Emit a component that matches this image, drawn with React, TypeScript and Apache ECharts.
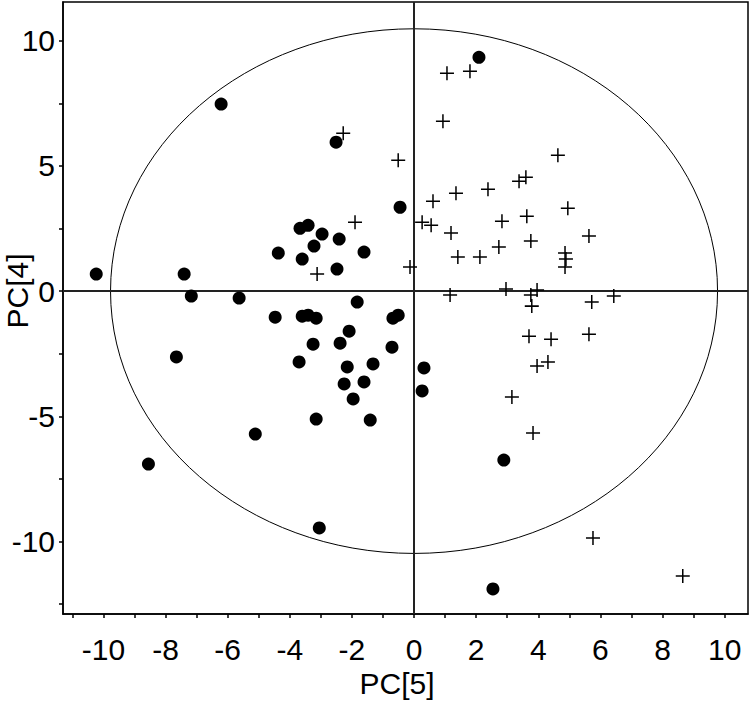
import React, { useEffect, useRef } from "react";
import * as echarts from "echarts";

// Filled circles: [PC5, PC4]
const dotsPC5 = [-10.23, -7.4, -7.17, -5.63, -7.65, -6.21, -8.55, -3.05, 2.89, 2.54, 2.09, -2.51, -0.45, -3.67, -3.41, -2.96, -2.41, -4.37, -3.22, -3.6, -1.61, -2.48, -4.47, -3.6, -3.41, -3.15, -1.83, -0.68, -0.51, -2.09, -3.25, -2.38, -0.71, -3.7, -2.15, -1.32, 0.32, -2.25, -1.61, 0.26, -1.96, -3.15, -1.41, -5.11];
const dotsPC4 = [0.68, 0.68, -0.2, -0.28, -2.63, 7.47, -6.91, -9.46, -6.75, -11.9, 9.34, 5.95, 3.35, 2.51, 2.63, 2.28, 2.08, 1.52, 1.8, 1.28, 1.56, 0.88, -1.04, -1.0, -0.96, -1.08, -0.44, -1.08, -0.96, -1.6, -2.12, -2.08, -2.24, -2.83, -3.03, -2.91, -3.07, -3.71, -3.63, -3.99, -4.31, -5.11, -5.15, -5.71];

// Plus markers: [PC5, PC4]
const crossPC5 = [1.06, 1.8, 0.93, -0.51, -2.28, 0.61, 1.35, 2.38, 3.38, 3.6, 4.63, 0.26, 0.55, 1.19, 2.83, 3.63, 4.95, -1.9, 2.73, 3.76, 5.63, 4.86, 4.89, 4.86, 1.41, 2.12, -0.13, -3.12, 1.16, 2.96, 3.96, 3.76, 3.79, 5.72, 6.43, 3.7, 4.41, 5.63, 3.96, 4.31, 3.15, 3.83, 5.76, 8.65];
const crossPC4 = [8.7, 8.78, 6.79, 5.23, 6.31, 3.59, 3.91, 4.07, 4.39, 4.55, 5.43, 2.75, 2.63, 2.32, 2.79, 2.99, 3.31, 2.75, 1.76, 2.0, 2.2, 1.52, 1.28, 0.96, 1.36, 1.36, 0.96, 0.68, -0.16, 0.08, 0.04, -0.16, -0.6, -0.44, -0.2, -1.8, -1.92, -1.72, -2.99, -2.83, -4.23, -5.67, -9.86, -11.38];

// Confidence ellipse semi-axes (in data units)
const ellipseRadii = [9.77, 10.48];

const xTicks = [-11, -10, -9, -8, -7, -6, -5, -4, -3, -2, -1, 0, 1, 2, 3, 4, 5, 6, 7, 8, 9, 10];
const xLabels = [-10, -8, -6, -4, -2, 0, 2, 4, 6, 8, 10];
const yTicks = [-12.5, -10, -7.5, -5, -2.5, 0, 2.5, 5, 7.5, 10];
const yLabels = [-10, -5, 0, 5, 10];

const FONT = "'Liberation Sans', Arial, sans-serif";
const PLUS = "path://M5.8,0H7.2V5.8H13V7.2H7.2V13H5.8V7.2H0V5.8H5.8Z";

export default function App() {
  const ref = useRef<HTMLDivElement>(null);
  useEffect(() => {
    if (!ref.current) return;
    const chart = echarts.init(ref.current, null, { renderer: "svg" });
    const dots = dotsPC5.map((x, i) => [x, dotsPC4[i]]);
    const crosses = crossPC5.map((x, i) => [x, crossPC4[i]]);
    chart.setOption({
      animation: false,
      backgroundColor: "#fff",
      grid: {
        left: 63,
        right: 2,
        top: 2,
        bottom: 94,
        containLabel: false,
        outerBoundsMode: "none",
        show: true,
        borderColor: "#000",
        borderWidth: 1.5,
        backgroundColor: "transparent",
      },
      graphic: [
        {
          type: "text",
          x: 17,
          y: 291,
          rotation: Math.PI / 2,
          style: {
            text: "PC[4]",
            font: `30px ${FONT}`,
            lineHeight: 30,
            fill: "#000",
            textAlign: "center",
            textVerticalAlign: "middle",
          },
        },
      ],
      xAxis: {
        type: "value",
        min: -11.3,
        max: 10.75,
        name: "PC[5]",
        nameLocation: "middle",
        nameGap: 50,
        nameTextStyle: { fontFamily: FONT, fontSize: 30, color: "#000", padding: [0, 17, 0, 0] },
        axisLine: { show: true, onZero: false, lineStyle: { color: "#000", width: 1.5 } },
        axisTick: { show: true, length: 4, customValues: xTicks, lineStyle: { color: "#000", width: 1.5 } },
        axisLabel: { customValues: xLabels, fontFamily: FONT, fontSize: 30, color: "#000", margin: 20 },
        splitLine: { show: false },
      },
      yAxis: {
        type: "value",
        min: -12.9,
        max: 11.55,
        axisLine: { show: true, onZero: false, lineStyle: { color: "#000", width: 1.5 } },
        axisTick: { show: true, length: 4, customValues: yTicks, lineStyle: { color: "#000", width: 1.5 } },
        axisLabel: { customValues: yLabels, fontFamily: FONT, fontSize: 30, color: "#000", margin: 8 },
        splitLine: { show: false },
      },
      series: [
        {
          type: "custom",
          clip: false,
          silent: true,
          data: [[0, 0]],
          renderItem: (params: any, api: any) => {
            const c = api.coord([api.value(0), api.value(1)]);
            const p = api.coord([ellipseRadii[0], ellipseRadii[1]]);
            return {
              type: "ellipse",
              shape: { cx: c[0], cy: c[1], rx: Math.abs(p[0] - c[0]), ry: Math.abs(p[1] - c[1]) },
              style: { fill: "none", stroke: "#000", lineWidth: 1 },
            };
          },
          z: 1,
        },
        {
          type: "scatter",
          data: dots,
          symbol: "circle",
          symbolSize: 13,
          itemStyle: { color: "#000", opacity: 1 },
          z: 3,
          markLine: {
            silent: true,
            symbol: "none",
            label: { show: false },
            lineStyle: { color: "#222", width: 2, type: "solid", opacity: 1 },
            data: [{ xAxis: 0 }, { yAxis: 0 }],
            z: 2,
          },
        },
        {
          type: "scatter",
          data: crosses,
          symbol: PLUS,
          symbolSize: 14,
          itemStyle: { color: "#000", opacity: 1 },
          z: 3,
        },
      ],
    });
    return () => chart.dispose();
  }, []);
  return (
    <div
      ref={ref}
      style={{ position: "fixed", left: 0, top: 0, width: 750, height: 708, background: "#fff" }}
    />
  );
}
